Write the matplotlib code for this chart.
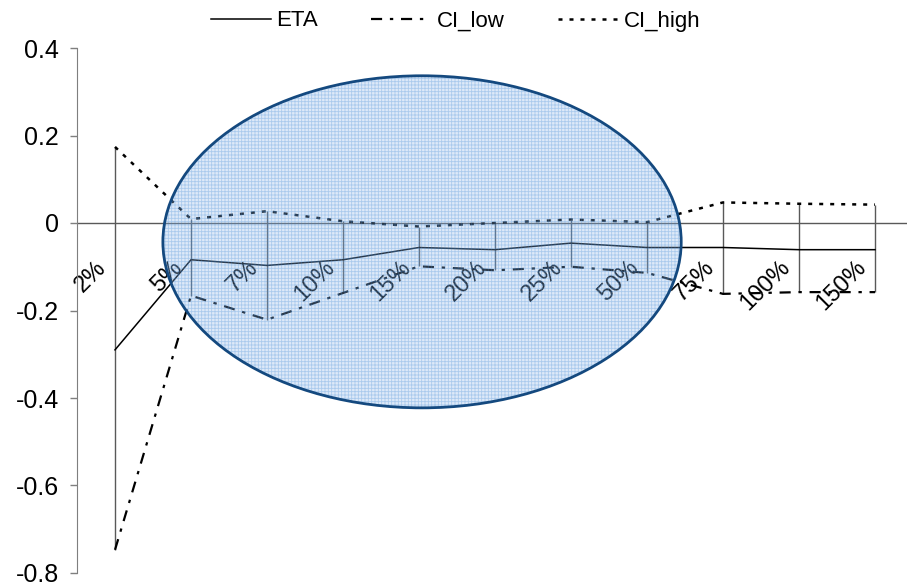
import matplotlib
matplotlib.use("Agg")
import matplotlib.pyplot as plt
from matplotlib.patches import Ellipse
from matplotlib.lines import Line2D

plt.rcParams['font.family'] = ['Liberation Sans', 'DejaVu Sans']
plt.rcParams['axes.unicode_minus'] = False
plt.rcParams['hatch.linewidth'] = 0.6

categories = ["2%", "5%", "7%", "10%", "15%", "20%", "25%", "50%", "75%", "100%", "150%"]
eta = [-0.290, -0.084, -0.097, -0.084, -0.056, -0.061, -0.046, -0.056, -0.056, -0.061, -0.061]
ci_low = [-0.747, -0.166, -0.221, -0.160, -0.099, -0.108, -0.100, -0.114, -0.162, -0.158, -0.158]
ci_high = [0.174, 0.009, 0.027, 0.004, -0.008, 0.000, 0.008, 0.002, 0.047, 0.044, 0.042]
y_ticks = [-0.8, -0.6, -0.4, -0.2, 0, 0.2, 0.4]

W, H = 907, 584
fig = plt.figure(figsize=(W / 100, H / 100), dpi=100)
ax = fig.add_axes([77 / W, 1 - 573 / H, 836 / W, 525 / H])
x = list(range(len(categories)))

ax.set_xlim(-0.5, len(categories) - 0.5)
ax.set_ylim(-0.8, 0.4)

low_style = (0, (5, 3.5, 1.5, 3.5))
high_style = (0, (1.6, 2.8))

# high-low bars
ax.vlines(x, ci_low, ci_high, color="#595959", lw=1.0, zorder=1)
ax.axhline(0, color="#595959", lw=1.0, zorder=1)

ax.plot(x, eta, color="black", lw=1.1, zorder=2)
ax.plot(x, ci_low, color="black", lw=1.6, ls=low_style, zorder=2)
ax.plot(x, ci_high, color="black", lw=1.8, ls=high_style, zorder=2)

for i, lab in enumerate(categories):
    ax.annotate(lab, xy=(i, 0), xytext=(-3, -24), textcoords="offset points",
                ha="right", va="top", rotation=45, fontsize=17, zorder=2)

# highlighted region
fill = Ellipse((4.04, -0.043), 6.82, 0.759, facecolor="#91b9e8", edgecolor="#3784d4",
               hatch="+++++", lw=0, alpha=0.3, zorder=3)
ax.add_patch(fill)
ring = Ellipse((4.04, -0.043), 6.82, 0.759, facecolor="none", edgecolor="#14497f",
               lw=2.0, zorder=4)
ax.add_patch(ring)

ax.set_xticks([])
ax.set_yticks(y_ticks)
ax.set_yticklabels([f"{v:g}" for v in y_ticks], fontsize=18)
ax.tick_params(axis="y", direction="out", length=5, width=1, color="#7f7f7f", pad=8)
for s in ["top", "right", "bottom"]:
    ax.spines[s].set_visible(False)
ax.spines["left"].set_color("#7f7f7f")

handles = [
    Line2D([], [], color="black", lw=1.1),
    Line2D([], [], color="black", lw=1.6, ls=low_style),
    Line2D([], [], color="black", lw=1.8, ls=high_style),
]
fig.legend(handles, ["ETA", "CI_low", "CI_high"], ncol=3, loc="center",
           bbox_to_anchor=(0.502, 1 - 21 / H), frameon=False, fontsize=16,
           handlelength=2.7, handletextpad=0.25, columnspacing=2.4)

fig.savefig("out.png", dpi=100)
